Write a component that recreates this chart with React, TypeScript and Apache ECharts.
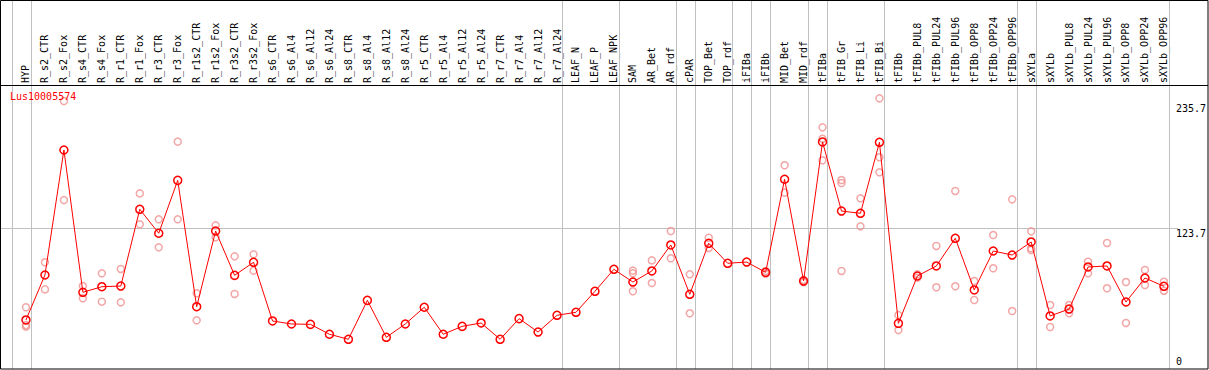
import React, { useEffect, useRef } from 'react';
import * as echarts from 'echarts';

const categories = [
  'HYP', 'R_s2_CTR', 'R_s2_Fox', 'R_s4_CTR', 'R_s4_Fox', 'R_r1_CTR', 'R_r1_Fox', 'R_r3_CTR', 'R_r3_Fox',
  'R_r1s2_CTR', 'R_r1s2_Fox', 'R_r3s2_CTR', 'R_r3s2_Fox', 'R_s6_CTR', 'R_s6_Al4', 'R_s6_Al12', 'R_s6_Al24',
  'R_s8_CTR', 'R_s8_Al4', 'R_s8_Al12', 'R_s8_Al24', 'R_r5_CTR', 'R_r5_Al4', 'R_r5_Al12', 'R_r5_Al24',
  'R_r7_CTR', 'R_r7_Al4', 'R_r7_Al12', 'R_r7_Al24', 'LEAF_N', 'LEAF_P', 'LEAF_NPK', 'SAM', 'AR_Bet', 'AR_rdf',
  'cPAR', 'TOP_Bet', 'TOP_rdf', 'iFIBa', 'iFIBb', 'MID_Bet', 'MID_rdf', 'tFIBa', 'tFIB_Gr', 'tFIB_Li', 'tFIB_Bi',
  'tFIBb', 'tFIBb_PUL8', 'tFIBb_PUL24', 'tFIBb_PUL96', 'tFIBb_OPP8', 'tFIBb_OPP24', 'tFIBb_OPP96', 'sXYLa',
  'sXYLb', 'sXYLb_PUL8', 'sXYLb_PUL24', 'sXYLb_PUL96', 'sXYLb_OPP8', 'sXYLb_OPP24', 'sXYLb_OPP96',
];

const meanValues = [
  41.6, 81.9, 193.9, 66.4, 71.4, 72, 140.8, 119.3, 166.7,
  53.5, 121.3, 81.6, 93.3, 40.7, 38, 37.7, 28.8,
  24.3, 59.2, 26.1, 38, 53, 28.8, 35.9, 38.9,
  24.3, 42.8, 30.8, 45.8, 48.5, 67.3, 87, 75.6, 85.5, 108.8,
  64.6, 110.3, 92.4, 93.5, 84.3, 167.7, 76.5, 201.1, 139.2, 137.2, 200.8,
  38.6, 81, 90, 114.8, 68.5, 103.4, 99.8, 111.5,
  45.2, 51.4, 89.1, 90, 57.7, 79.2, 71.8,
];

const rep1 = [
  53, 93.3, 237.8, 72, 83.4, 87.3, 155, 131.8, 201.4,
  65.5, 126.4, 98.6, 100.4, null, null, null, null,
  null, null, null, null, null, null, null, null,
  null, null, null, null, null, null, null, 85.8, 95, 121.3,
  82.5, 115.3, null, null, 85.5, 180.2, 75.5, 214.2, 167, 150.6, 240.2,
  46, 82.5, 107.9, 157.2, 76.5, 117.7, 149.7, 121,
  55, 55, 93.8, 110.6, 75.6, 86.4, 75.9,
];

const rep2 = [
  37, 69, 149, 61, 58, 57.4, 127.3, 106.7, 131.8,
  41.3, 115.7, 64.9, 85.8, null, null, null, null,
  null, null, null, null, null, null, null, null,
  null, null, null, null, null, null, null, 83.4, 74.7, 96.9,
  47.6, 106.1, null, null, 83, 155.7, 77.5, 204, 164.3, 125.5, 187.4,
  32.6, 79.5, 70.9, 71.8, 59.5, 87.9, 49.6, 105.8,
  35.3, 47.6, 83.4, 70, 38.9, 72.9, 67.8,
];

const rep3 = [
  35.6, null, null, null, null, null, null, null, null,
  null, null, null, null, null, null, null, null,
  null, null, null, null, null, null, null, null,
  null, null, null, null, null, null, null, 67.3, null, null,
  null, null, null, null, null, null, null, 184.7, 85.5, null, 173.9,
  null, null, null, null, null, null, null, 104.3,
  null, null, null, null, null, null, null,
];

const yTickValues = [123.7, 235.7];
const yZeroTick = [0];
const yMax = 251.25;
const gridValue = 123.7;
const groupEndsAfter = ['', 'HYP', 'R_r7_Al24', 'LEAF_NPK', 'AR_rdf', 'cPAR', 'TOP_rdf', 'iFIBa', 'iFIBb',
  'MID_rdf', 'tFIBa', 'tFIB_Bi', 'tFIBb_OPP96', 'sXYLa', 'sXYLb_OPP96'];
const geneTitle = 'Lus10005574';

const FONT = 'DejaVu Sans Mono';

export default function App() {
  const ref = useRef<HTMLDivElement>(null);

  useEffect(() => {
    document.body.style.margin = '0';
    const chart = echarts.init(ref.current!, null, { renderer: 'svg' });

    const repData: any[] = [];
    [rep1, rep2, rep3].forEach((arr) => {
      arr.forEach((v, i) => {
        if (v !== null && v !== undefined) repData.push([categories[i], v]);
      });
    });

    const axisLabelBase = {
      fontFamily: FONT,
      fontSize: 10,
      color: '#000',
    };

    chart.setOption({
      animation: false,
      backgroundColor: '#fff',
      grid: { left: 16.5, top: 86, width: 1159, height: 280.4, containLabel: false },
      xAxis: {
        type: 'category',
        data: categories,
        position: 'top',
        boundaryGap: true,
        axisLine: { show: false },
        axisTick: { show: false },
        splitLine: { show: false },
        axisLabel: { ...axisLabelBase, rotate: 90, margin: 3, interval: 0 },
      },
      yAxis: [
        {
          type: 'value', min: 0, max: yMax, position: 'right',
          axisLine: { show: false }, axisTick: { show: false }, splitLine: { show: false },
          axisLabel: {
            ...axisLabelBase, customValues: yTickValues, margin: 2.5, align: 'left', verticalAlign: 'top',
            formatter: (v: number) => v.toFixed(1),
          },
        },
        {
          type: 'value', min: 0, max: yMax, position: 'right',
          axisLine: { show: false }, axisTick: { show: false }, splitLine: { show: false },
          axisLabel: {
            ...axisLabelBase, customValues: yZeroTick, margin: 2.5, align: 'left', verticalAlign: 'bottom',
            formatter: (v: number) => String(v),
          },
        },
      ],
      series: [
        {
          type: 'scatter',
          data: repData,
          symbol: 'circle',
          symbolSize: 7,
          itemStyle: { color: 'transparent', borderColor: '#f09090', borderWidth: 1.5 },
          z: 3,
        },
        {
          type: 'line',
          data: meanValues,
          symbol: 'circle',
          symbolSize: 8,
          showSymbol: true,
          lineStyle: { color: '#ff0000', width: 1 },
          itemStyle: { color: 'transparent', borderColor: '#ff0000', borderWidth: 1.5 },
          z: 4,
        },
      ],
    });

    const c0 = chart.convertToPixel({ xAxisIndex: 0 }, categories[0]) as number;
    const c1 = chart.convertToPixel({ xAxisIndex: 0 }, categories[1]) as number;
    const band = c1 - c0;
    const gy = chart.convertToPixel({ yAxisIndex: 0 }, gridValue) as number;
    const W = 1208;
    const H = 369;

    const vLines = groupEndsAfter.map((name) => {
      const idx = categories.indexOf(name);
      const cx = idx >= 0 ? (chart.convertToPixel({ xAxisIndex: 0 }, name) as number) : c0 - band;
      const x = Math.round(cx + band * 0.25) + 0.5;
      return {
        type: 'line', z: 1, silent: true,
        shape: { x1: x, y1: 0, x2: x, y2: H },
        style: { stroke: '#c0c0c0', lineWidth: 1 },
      };
    });

    chart.setOption({
      graphic: [
        ...vLines,
        {
          type: 'line', z: 1, silent: true,
          shape: { x1: 1, y1: Math.round(gy) + 0.5, x2: 1178, y2: Math.round(gy) + 0.5 },
          style: { stroke: '#c0c0c0', lineWidth: 1 },
        },
        {
          type: 'line', z: 5, silent: true,
          shape: { x1: 0, y1: 85.5, x2: W, y2: 85.5 },
          style: { stroke: '#000', lineWidth: 1 },
        },
        {
          type: 'rect', z: 5, silent: true,
          shape: { x: 0.5, y: 0.5, width: W - 0.5, height: H - 0.5 },
          style: { fill: 'none', stroke: '#000', lineWidth: 1 },
        },
        {
          type: 'text', z: 5, silent: true,
          x: 10, y: 91,
          style: { text: geneTitle, fill: '#ff0000', font: `10px "${FONT}"`, verticalAlign: 'top', align: 'left' },
        },
      ],
    });

    return () => chart.dispose();
  }, []);

  return <div ref={ref} style={{ width: 1209, height: 370 }} />;
}
